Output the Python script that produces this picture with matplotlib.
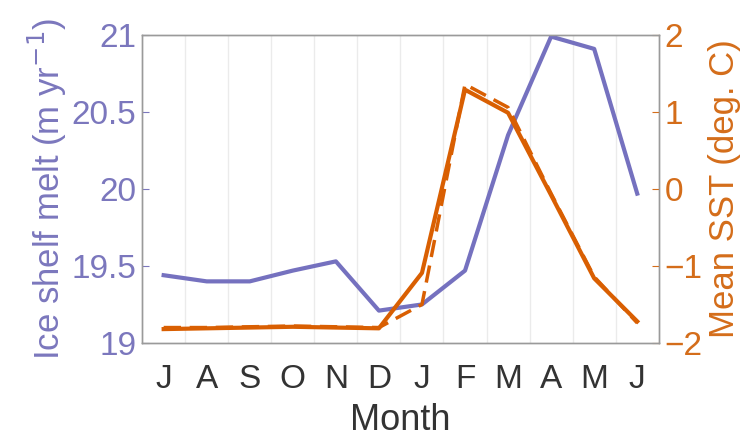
import matplotlib.pyplot as plt

months = ["J", "A", "S", "O", "N", "D", "J", "F", "M", "A", "M", "J"]
melt = [19.44, 19.40, 19.40, 19.47, 19.53, 19.21, 19.25, 19.47, 20.35, 20.99, 20.91, 19.97]
sst = [-1.82, -1.81, -1.80, -1.79, -1.80, -1.81, -1.09, 1.29, 0.99, -0.08, -1.16, -1.72]
sst_dashed = [-1.80, -1.80, -1.79, -1.78, -1.79, -1.80, -1.50, 1.36, 1.06, -0.06, -1.14, -1.74]

blue = "#7571bf"
orange = "#d95f02"
blue_txt = "#7b77bd"
orange_txt = "#d46d1a"


def main() -> None:
    plt.rcParams["font.family"] = ["Liberation Sans", "DejaVu Sans"]
    fig = plt.figure(figsize=(7.52, 4.38), dpi=100)
    ax = fig.add_axes([0.189, 0.217, 0.687, 0.703])
    x = list(range(1, len(months) + 1))

    for g in [i + 0.5 for i in x[:-1]]:
        ax.axvline(g, color="#ebebeb", lw=1, zorder=0)

    ax.plot(x, melt, color=blue, lw=3, zorder=3)
    ax.set_xlim(0.5, 12.5)
    ax.set_ylim(19, 21)
    ax.set_yticks([19, 19.5, 20, 20.5, 21])
    ax.set_yticklabels(["19", "19.5", "20", "20.5", "21"])
    ax.set_xticks(x)
    ax.set_xticklabels(months)
    ax.tick_params(axis="y", colors=blue_txt, labelsize=24, direction="in", length=5, pad=4)
    ax.tick_params(axis="x", colors="#333333", labelsize=24, direction="in", length=0, pad=15)
    ax.set_ylabel("Ice shelf melt (m yr$^{-1}$)", color=blue_txt, fontsize=25, labelpad=2)
    ax.set_xlabel("Month", color="#333333", fontsize=26, labelpad=6)

    ax2 = ax.twinx()
    ax2.plot(x, sst_dashed, color=orange, lw=2.5, ls=(0, (5, 2.5)), zorder=2)
    ax2.plot(x, sst, color=orange, lw=3, zorder=3)
    ax2.set_ylim(-2, 2)
    ax2.set_yticks([-2, -1, 0, 1, 2])
    ax2.tick_params(axis="y", colors=orange_txt, labelsize=24, direction="in", length=5, pad=4)
    ax2.set_ylabel("Mean SST (deg. C)", color=orange_txt, fontsize=25, labelpad=4)

    for a in (ax, ax2):
        for s in a.spines.values():
            s.set_color("#9a9a9a")
            s.set_linewidth(1)

    fig.savefig("out.png", dpi=100)


if __name__ == "__main__":
    main()
